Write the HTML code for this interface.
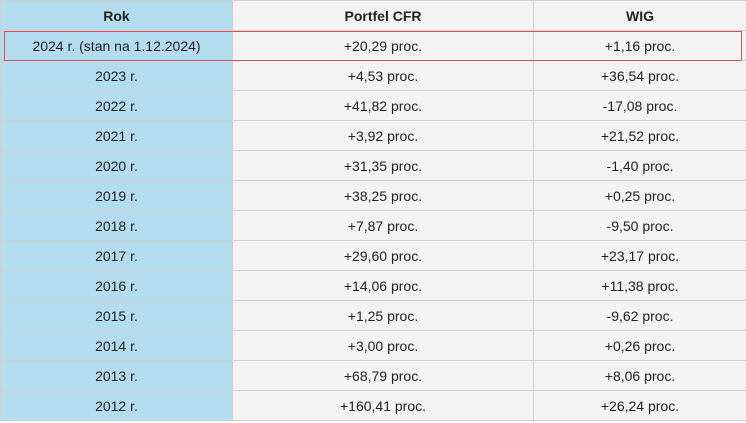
<!DOCTYPE html>
<html><head><meta charset="utf-8"><style>
body{margin:0;width:746px;height:423px;background:#fff;font-family:"Liberation Sans",Arial,sans-serif;overflow:hidden;position:relative}
table{position:absolute;left:0;top:0;border-collapse:collapse;table-layout:fixed;width:746px}
td,th{border:1px solid #cfcfcf;height:29px;padding:0;text-align:center;font-size:14px;color:#222;background:#f3f3f3}
th{font-weight:bold;height:29px;background:#f3f3f3}
td:first-child,th:first-child{background:#b4dcef}
#hl{position:absolute;left:4px;top:31px;width:736px;height:28px;border:1px solid #d9534f;pointer-events:none}
</style></head><body>
<table>
<colgroup><col style="width:232px"><col style="width:301px"><col style="width:213px"></colgroup>
<tr><th>Rok</th><th>Portfel CFR</th><th>WIG</th></tr>
<tr><td>2024 r. (stan na 1.12.2024)</td><td>+20,29 proc.</td><td>+1,16 proc.</td></tr>
<tr><td>2023 r.</td><td>+4,53 proc.</td><td>+36,54 proc.</td></tr>
<tr><td>2022 r.</td><td>+41,82 proc.</td><td>-17,08 proc.</td></tr>
<tr><td>2021 r.</td><td>+3,92 proc.</td><td>+21,52 proc.</td></tr>
<tr><td>2020 r.</td><td>+31,35 proc.</td><td>-1,40 proc.</td></tr>
<tr><td>2019 r.</td><td>+38,25 proc.</td><td>+0,25 proc.</td></tr>
<tr><td>2018 r.</td><td>+7,87 proc.</td><td>-9,50 proc.</td></tr>
<tr><td>2017 r.</td><td>+29,60 proc.</td><td>+23,17 proc.</td></tr>
<tr><td>2016 r.</td><td>+14,06 proc.</td><td>+11,38 proc.</td></tr>
<tr><td>2015 r.</td><td>+1,25 proc.</td><td>-9,62 proc.</td></tr>
<tr><td>2014 r.</td><td>+3,00 proc.</td><td>+0,26 proc.</td></tr>
<tr><td>2013 r.</td><td>+68,79 proc.</td><td>+8,06 proc.</td></tr>
<tr><td>2012 r.</td><td>+160,41 proc.</td><td>+26,24 proc.</td></tr>
</table>
<div id="hl"></div>
</body></html>
